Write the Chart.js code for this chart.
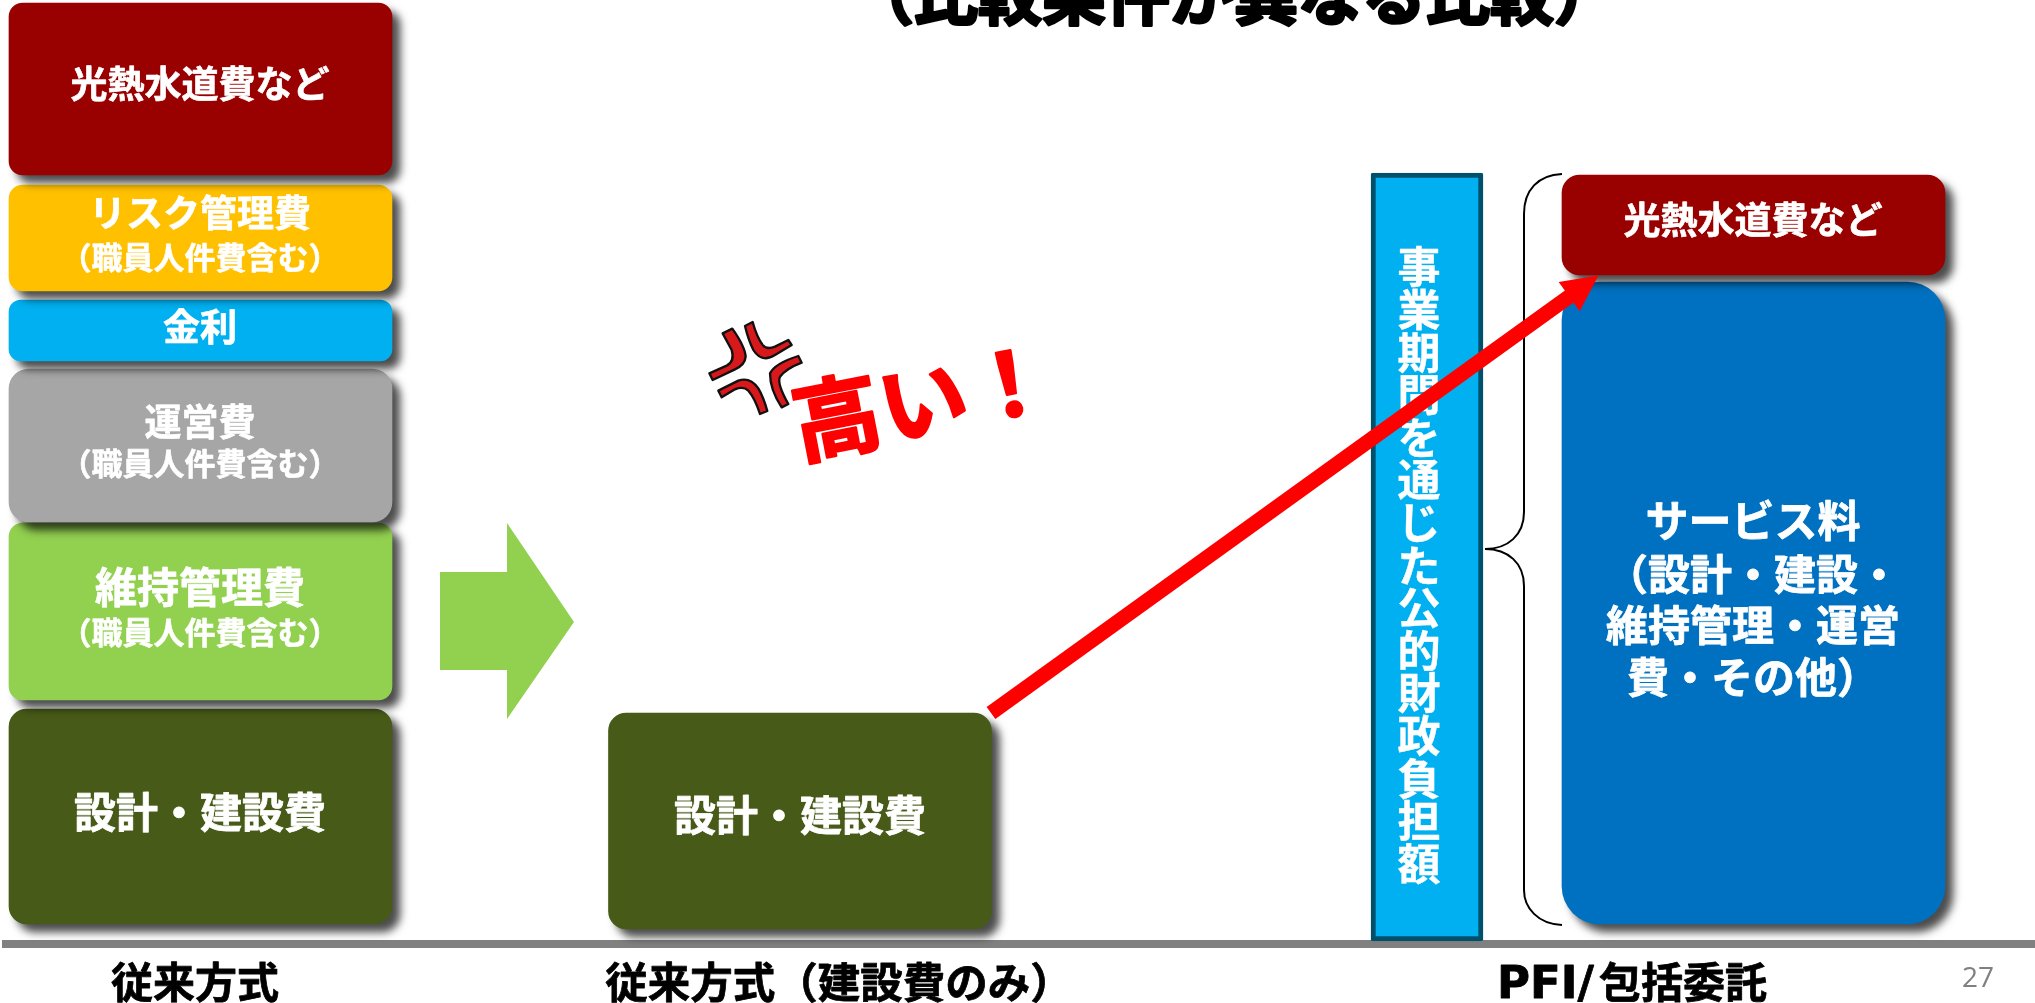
<!DOCTYPE html>
<html lang="ja">
<head>
<meta charset="utf-8">
<title>PFI 比較</title>
<script src="https://cdn.jsdelivr.net/npm/chart.js@4/dist/chart.umd.min.js"></script>
<style>
  html, body { margin: 0; padding: 0; background: #fff; overflow: hidden; }
  canvas { display: block; }
</style>
</head>
<body>
<canvas id="costChart" width="2035" height="1003"></canvas>
<script>
const jpFont = '"Noto Sans CJK JP", sans-serif';

// conventional method stack, top segment first
const costItems = ["光熱水道費", "リスク管理費", "金利", "運営費", "維持管理費", "設計・建設費"];
const costFrom = [765, 649, 579, 418, 240, 16];
const costTo = [937, 755, 640, 571, 417, 231];
const costColors = ["#990000", "#FFC000", "#00B0F0", "#A6A6A6", "#92D050", "#475A18"];
const costRadius = [14, 14, 12, 20, 14, 18];

// construction cost only
const buildFrom = [11];
const buildTo = [227];

// PFI column: utilities on top of the service fee
const pfiItems = ["光熱水道費", "サービス料"];
const pfiFrom = [665, 16];
const pfiTo = [765, 658];
const pfiRadius = [18, 38];
const pfiColors = ["#990000", "#0070C0"];

// public burden over the project period
const burdenFrom = [-1];
const burdenTo = [767];

// the jump from construction cost up to the PFI column
const jumpX = [991, 1570];
const jumpY = [227, 644];

// where each column sits along the x scale
const columnCentre = { conventional: 200.5, buildOnly: 800, burden: 1427, pfi: 1753.5 };

const datasets = [];

datasets.push({
  type: "line",
  label: "増加",
  data: jumpX.map((x, i) => ({ x, y: jumpY[i] })),
  borderColor: "#FF0000",
  borderWidth: 15,
  borderCapStyle: "butt",
  pointRadius: 0,
  tension: 0,
  arrowHead: true
});

pfiItems.forEach((name, i) => {
  datasets.push({
    label: name,
    data: [{ x: columnCentre.pfi, y: [pfiFrom[i], pfiTo[i]] }],
    backgroundColor: pfiColors[i],
    borderRadius: pfiRadius[i],
    borderSkipped: false,
    barThickness: 383,
    grouped: false,
    castShadow: true
  });
});

datasets.push({
  label: "事業期間を通じた公的財政負担額",
  data: [{ x: columnCentre.burden, y: [burdenFrom[0], burdenTo[0]] }],
  backgroundColor: "#00B0F0",
  borderColor: "#00506B",
  borderWidth: 5,
  borderRadius: 2,
  borderSkipped: false,
  barThickness: 112,
  grouped: false,
  verticalText: true
});

datasets.push({
  label: "設計・建設費",
  data: [{ x: columnCentre.buildOnly, y: [buildFrom[0], buildTo[0]] }],
  backgroundColor: costColors[5],
  borderRadius: 18,
  borderSkipped: false,
  barThickness: 383,
  grouped: false,
  castShadow: true
});

costItems.forEach((name, i) => {
  datasets.push({
    label: name,
    data: [{ x: columnCentre.conventional, y: [costFrom[i], costTo[i]] }],
    backgroundColor: costColors[i],
    borderRadius: costRadius[i],
    borderSkipped: false,
    barThickness: 383,
    grouped: false,
    castShadow: true
  });
});

// bold text with a thin outline of its own colour, the CJK bold runs a little light
function putText(ctx, text, x, y, size, color, heavy, family, align) {
  ctx.font = "bold " + size + "px " + (family || jpFont);
  ctx.fillStyle = color || "#fff";
  ctx.strokeStyle = color || "#fff";
  ctx.lineJoin = "round";
  ctx.lineWidth = heavy === undefined ? size * 0.018 : heavy;
  ctx.textAlign = align || "center";
  ctx.textBaseline = "middle";
  ctx.fillText(text, x, y);
  ctx.strokeText(text, x, y);
}

// labels on the boxes
const boxLabels = [
  ["光熱水道費など", 200, 84, 37],
  ["リスク管理費", 200, 213, 37],
  ["（職員人件費含む）", 200, 257, 31],
  ["金利", 200, 327, 37],
  ["運営費", 200, 422, 37],
  ["（職員人件費含む）", 200, 463, 31],
  ["維持管理費", 200, 587, 42],
  ["（職員人件費含む）", 200, 632, 31],
  ["設計・建設費", 200, 812, 42],
  ["設計・建設費", 800, 815, 42],
  ["光熱水道費など", 1753, 220, 37],
  ["サービス料", 1753, 521, 43],
  ["（設計・建設・", 1753, 574, 42],
  ["維持管理・運営", 1753, 625, 42],
  ["費・その他）", 1753, 677, 42]
];

const drawingPlugin = {
  id: "slideDrawing",
  beforeDatasetsDraw(chart) {
    const ctx = chart.ctx;
    ctx.save();

    // baseline
    ctx.fillStyle = "#808080";
    ctx.fillRect(2, 940, 2033, 8);

    // block arrow between the first two columns
    ctx.fillStyle = "#92D050";
    ctx.beginPath();
    ctx.moveTo(440, 572);
    ctx.lineTo(507, 572);
    ctx.lineTo(507, 523);
    ctx.lineTo(574, 622);
    ctx.lineTo(507, 719);
    ctx.lineTo(507, 670);
    ctx.lineTo(440, 670);
    ctx.closePath();
    ctx.fill();

    // brace next to the PFI column
    ctx.strokeStyle = "#000";
    ctx.lineWidth = 2;
    ctx.beginPath();
    ctx.moveTo(1562, 174);
    ctx.bezierCurveTo(1538, 175, 1524, 190, 1524, 214);
    ctx.lineTo(1524, 512);
    ctx.bezierCurveTo(1524, 535, 1508, 549, 1485, 549);
    ctx.bezierCurveTo(1508, 549, 1524, 563, 1524, 586);
    ctx.lineTo(1524, 890);
    ctx.bezierCurveTo(1524, 908, 1538, 924, 1562, 925);
    ctx.stroke();

    ctx.restore();
  },
  beforeDatasetDraw(chart, args) {
    if (chart.data.datasets[args.index].castShadow) {
      const ctx = chart.ctx;
      ctx.save();
      ctx.shadowColor = "rgba(0,0,0,0.7)";
      ctx.shadowOffsetX = 8;
      ctx.shadowOffsetY = 8;
      ctx.shadowBlur = 8;
    }
  },
  afterDatasetDraw(chart, args) {
    const ctx = chart.ctx;
    const ds = chart.data.datasets[args.index];
    if (ds.castShadow) ctx.restore();

    if (ds.verticalText) {
      ctx.save();
      Array.from(ds.label).forEach((ch, i) => {
        putText(ctx, ch, 1419, 267 + i * 42.6, 43, "#fff", 0.4);
      });
      ctx.restore();
    }

    if (ds.arrowHead) {
      const xs = chart.scales.x, ys = chart.scales.y;
      const pts = ds.data.map(p => [xs.getPixelForValue(p.x), ys.getPixelForValue(p.y)]);
      const [a, b] = pts;
      const angle = Math.atan2(b[1] - a[1], b[0] - a[0]);
      ctx.save();
      ctx.translate(b[0], b[1]);
      ctx.rotate(angle);
      ctx.fillStyle = ds.borderColor;
      ctx.beginPath();
      ctx.moveTo(35, 0);
      ctx.lineTo(-1, -18);
      ctx.lineTo(-1, 18);
      ctx.closePath();
      ctx.fill();
      ctx.restore();
    }
  },
  afterDatasetsDraw(chart) {
    const ctx = chart.ctx;
    ctx.save();

    boxLabels.forEach(l => putText(ctx, l[0], l[1], l[2], l[3]));

    // title runs off the top edge
    putText(ctx, "（比較条件が異なる比較）", 1234, -5, 64, "#000", 3);

    // column captions
    putText(ctx, "従来方式", 195, 982, 42, "#000");
    putText(ctx, "従来方式（建設費のみ）", 839, 982, 42.5, "#000");
    putText(ctx, "PFI/", 1497, 986, 45, "#000", 0.8, '"DejaVu Sans", sans-serif', "left");
    putText(ctx, "包括委託", 1599, 982, 42, "#000", undefined, jpFont, "left");

    // page number
    ctx.font = "28px \"Open Sans\", sans-serif";
    ctx.fillStyle = "#808080";
    ctx.textAlign = "center";
    ctx.textBaseline = "middle";
    ctx.fillText("27", 1978, 979);

    // anger mark
    ctx.save();
    ctx.translate(680, 300);
    ctx.scale(1 / 3, 1 / 3);
    ctx.fillStyle = "#D7191C";
    ctx.strokeStyle = "#111";
    ctx.lineWidth = 7;
    const marks = [
      "M88,220 L140,197 Q165,185 155,150 L128,100 L157,86 Q195,140 197,170 Q195,195 165,208 L98,240 Z",
      "M195,78 L218,66 Q230,110 248,135 Q260,150 285,140 L325,120 L335,135 L285,165 Q245,190 220,150 Q205,120 195,78 Z",
      "M115,272 L175,242 Q210,230 235,265 Q250,290 262,333 L240,342 Q225,295 205,272 Q190,258 165,268 L125,292 Z",
      "M270,220 Q285,190 355,168 L365,188 Q320,205 300,230 Q290,250 325,312 L305,322 Q270,270 270,220 Z"
    ];
    marks.forEach(d => {
      const p = new Path2D(d);
      ctx.fill(p);
      ctx.stroke(p);
    });
    ctx.restore();

    // slanted callout
    ctx.save();
    ctx.translate(923, 400);
    ctx.rotate(-11 * Math.PI / 180);
    putText(ctx, "高い！", 0, 0, 88, "#FF0000", 2.5);
    ctx.restore();

    ctx.restore();
  }
};

new Chart(document.getElementById("costChart"), {
  type: "bar",
  data: { datasets },
  plugins: [drawingPlugin],
  options: {
    responsive: false,
    animation: false,
    layout: { padding: 0 },
    plugins: {
      legend: { display: false },
      tooltip: { enabled: false }
    },
    scales: {
      x: { type: "linear", min: 0, max: 2035, offset: false, display: false },
      y: { min: -63, max: 940, display: false }
    }
  }
});
</script>
</body>
</html>
